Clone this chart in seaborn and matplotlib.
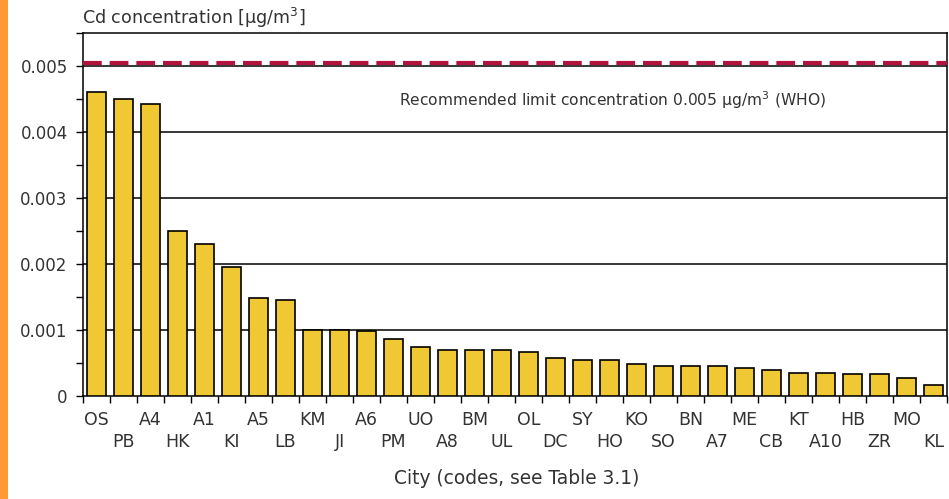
import matplotlib
matplotlib.use("Agg")
import matplotlib.pyplot as plt
import seaborn as sns
import pandas as pd
import numpy as np
from matplotlib.patches import Rectangle
from matplotlib.ticker import MultipleLocator, FixedLocator

cities = ["OS", "PB", "A4", "HK", "A1", "KI", "A5", "LB", "KM", "JI", "A6", "PM",
          "UO", "A8", "BM", "UL", "OL", "DC", "SY", "HO", "KO", "SO", "BN", "A7",
          "ME", "CB", "KT", "A10", "HB", "ZR", "MO", "KL"]
cd_values = [0.0046, 0.0045, 0.00442, 0.0025, 0.0023, 0.00196, 0.00149, 0.00145,
             0.0010, 0.0010, 0.00099, 0.00086, 0.00075, 0.00070, 0.00070, 0.00070,
             0.00067, 0.00057, 0.00054, 0.00054, 0.00048, 0.00046, 0.00046, 0.00046,
             0.00043, 0.00040, 0.00035, 0.00035, 0.00033, 0.00033, 0.00028, 0.00017]
who_limit = 0.005
y_ticks = [0, 0.001, 0.002, 0.003, 0.004, 0.005]
y_tick_labels = ["0", "0.001", "0.002", "0.003", "0.004", "0.005"]

df = pd.DataFrame({"city": cities, "cd": cd_values})

sns.set_style("white")
plt.rcParams["font.family"] = ["DejaVu Sans"]

fig = plt.figure(figsize=(9.49, 4.99), dpi=100)
fig.patches.append(Rectangle((0, 0), 8 / 949, 1, transform=fig.transFigure,
                             facecolor="#FF9A33", edgecolor="none", zorder=0))
ax = fig.add_axes([83 / 949, 1 - 396 / 499, (947 - 83) / 949, (396 - 33) / 499])

sns.barplot(data=df, x="city", y="cd", order=cities, color="#F0C834",
            saturation=1, edgecolor="black", linewidth=1.2, width=0.72, ax=ax, zorder=3)

ax.set_xlim(-0.5, len(cities) - 0.5)
ax.set_ylim(0, 0.0055)

for yv in y_ticks[1:]:
    ax.axhline(yv, color="black", linewidth=1.1, zorder=1)
ax.axhline(who_limit + 0.00004, color="#B3123C", linewidth=3, dashes=(4.5, 1.9), zorder=4)

ax.text(19.1, 0.00449,
        "Recommended limit concentration 0.005 \u03bcg/m$^3$ (WHO)",
        ha="center", va="center", fontsize=11.2, color="#333333")

ax.yaxis.set_major_locator(FixedLocator(y_ticks))
ax.set_yticklabels(y_tick_labels)
ax.yaxis.set_minor_locator(MultipleLocator(0.0005))
ax.tick_params(axis="y", which="both", direction="out", length=5, width=1,
               color="black", labelsize=12, labelcolor="#333333", left=True, pad=6)

xt = list(range(len(cities)))
ax.set_xticks(xt)
ax.set_xticklabels([c if i % 2 == 0 else "\n" + c for i, c in enumerate(cities)])
ax.set_xticks(np.arange(-0.5, len(cities), 1.0), minor=True)
ax.tick_params(axis="x", which="major", length=0, labelsize=12.5, labelcolor="#333333", pad=11)
ax.tick_params(axis="x", which="minor", direction="out", length=5, width=1,
               color="black", bottom=True)
for lbl in ax.get_xticklabels():
    lbl.set_linespacing(1.25)

ax.set_xlabel("")
ax.set_ylabel("")
for s in ax.spines.values():
    s.set_visible(True)
    s.set_color("black")
    s.set_linewidth(1.1)

fig.text(82 / 949, 1 - 18 / 499, "Cd concentration [\u03bcg/m$^3$]", ha="left",
         va="center", fontsize=12.6, color="#333333")
fig.text(517 / 949, 1 - 478 / 499, "City (codes, see Table 3.1)", ha="center",
         va="center", fontsize=13.4, color="#333333")

fig.savefig("out.png", dpi=100, facecolor="white")
